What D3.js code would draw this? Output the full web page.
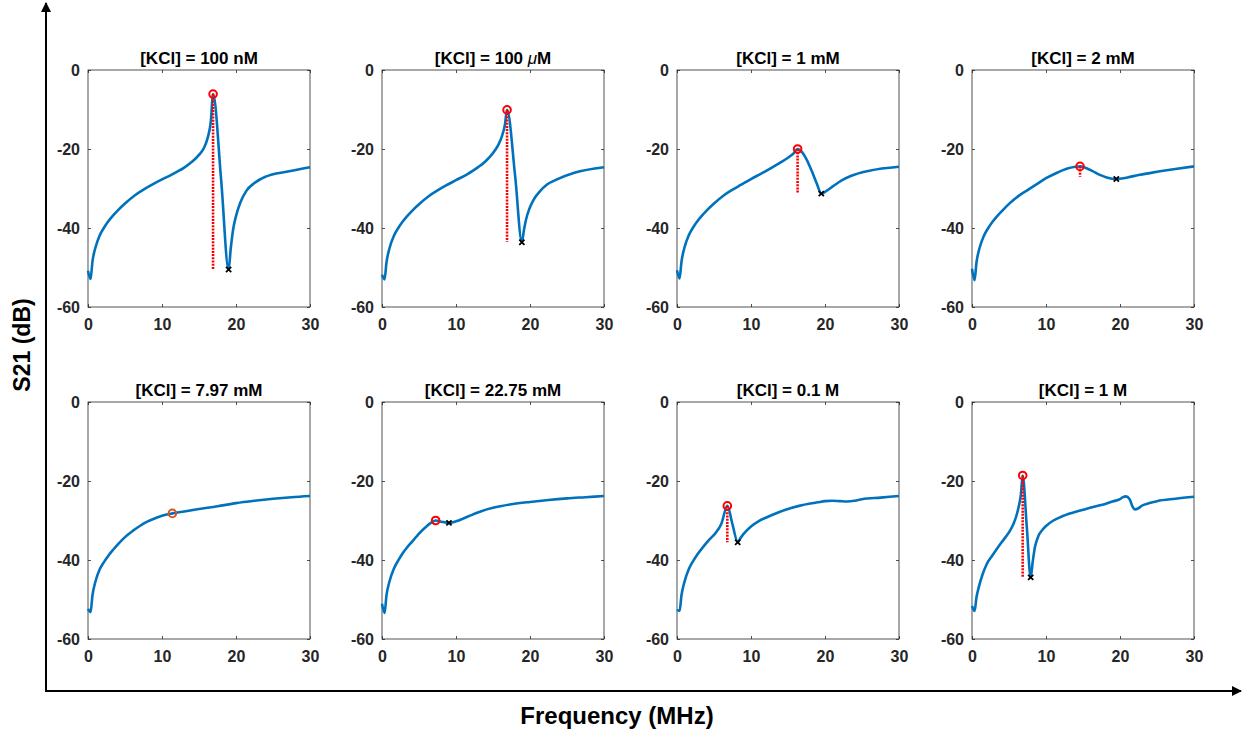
<!DOCTYPE html>
<html>
<head>
<meta charset="utf-8">
<script src="https://cdn.jsdelivr.net/npm/d3@7"></script>
<style>
  body { margin: 0; background: #fff; }
  text { font-family: Arial, "Liberation Sans", sans-serif; }
</style>
</head>
<body>
<div id="chart"></div>
<script>
// panel titles and ticks
var titles = ["[KCl] = 100 nM", "[KCl] = 100 \u03BCM", "[KCl] = 1 mM", "[KCl] = 2 mM",
              "[KCl] = 7.97 mM", "[KCl] = 22.75 mM", "[KCl] = 0.1 M", "[KCl] = 1 M"];
var xTicks = [0, 10, 20, 30];
var yTicks = [0, -20, -40, -60];

// S21 traces (freq in MHz, S21 in dB)
var f100nM = [0, 0.35, 0.6, 1, 1.6, 2.2, 2.75, 3.4, 4.1, 5, 6.35, 7.5, 8.6, 10, 11, 12, 13, 14, 15, 15.7, 16.2, 16.6, 16.9, 18, 19, 19.3, 19.6, 20, 20.6, 21.4, 22.5, 24, 27, 30];
var s100nM = [-50.8, -52.9, -48.5, -45, -41.8, -39.8, -38.3, -36.8, -35.4, -33.8, -31.7, -30.3, -29.1, -27.7, -26.8, -25.8, -24.7, -23.3, -21.5, -19.6, -17, -13, -6.1, -28, -50.5, -45, -40.5, -37, -33.5, -30.6, -28.6, -27, -25.7, -24.6];
var f100uM = [0, 0.35, 0.6, 1, 1.6, 2.2, 2.75, 3.4, 4.1, 5, 6.35, 7.5, 8.6, 10, 11.5, 13, 14, 15, 15.7, 16.2, 16.6, 16.9, 18, 18.9, 19.2, 19.5, 19.9, 20.5, 21.3, 22.3, 23.5, 26, 30];
var s100uM = [-51.8, -53, -48.8, -45.2, -42, -40, -38.5, -37, -35.6, -34, -31.9, -30.5, -29.3, -27.9, -26.4, -24.6, -23.1, -21, -19, -16.8, -14, -10.1, -27, -43.6, -40.3, -37.6, -35.2, -32.8, -30.8, -29, -27.8, -26, -24.6];
var f1mM = [0, 0.35, 0.6, 1, 1.6, 2.2, 2.75, 3.4, 4.1, 5, 6.35, 7.5, 8.6, 10, 11.5, 13, 14, 15, 15.7, 16.3, 16.9, 17.5, 18.2, 18.9, 19.5, 20.2, 21.1, 22.2, 23.4, 26, 30];
var s1mM = [-50.7, -52.8, -48.6, -45, -41.8, -39.8, -38.3, -36.8, -35.4, -33.8, -31.7, -30.3, -29.1, -27.6, -26.1, -24.5, -23.4, -22.2, -21.2, -20, -20.8, -22.6, -25.5, -28.8, -31.3, -30.6, -29.4, -28, -26.9, -25.5, -24.5];
var f2mM = [0, 0.35, 0.6, 1, 1.6, 2.2, 2.75, 3.4, 4.1, 5, 6.35, 7.5, 8.6, 10, 11.5, 13, 14, 14.6, 15.4, 16.3, 17.2, 18.2, 19.5, 21, 22.5, 24, 27, 30];
var s2mM = [-50.3, -53.2, -48.8, -45.2, -42, -40, -38.5, -37, -35.6, -33.9, -31.8, -30.4, -29.1, -27.4, -26, -24.9, -24.5, -24.4, -24.8, -25.6, -26.5, -27.2, -27.6, -27.2, -26.6, -26.1, -25.2, -24.4];
var f797mM = [0, 0.35, 0.6, 1, 1.6, 2.2, 2.75, 3.4, 4.1, 5, 6, 7, 8, 9, 10, 11.4, 13, 15, 17.5, 20, 22.5, 25, 27.5, 30];
var s797mM = [-52.4, -53.2, -49, -45.5, -42.3, -40.4, -38.9, -37.4, -35.9, -34.2, -32.7, -31.4, -30.3, -29.5, -28.8, -28.2, -27.7, -27.1, -26.4, -25.6, -25, -24.5, -24.1, -23.8];
var f2275mM = [0, 0.35, 0.6, 1, 1.6, 2.2, 2.75, 3.4, 4.1, 5, 6, 6.7, 7.25, 8, 9.05, 10, 11, 12, 13.5, 15, 17.5, 20, 22.5, 25, 27.5, 30];
var s2275mM = [-51.1, -53.4, -49, -45.5, -42.2, -40.1, -38.4, -36.8, -35.3, -33.3, -31.5, -30.5, -30.0, -30.3, -30.6, -30.2, -29.5, -28.7, -27.6, -26.8, -25.9, -25.3, -24.8, -24.4, -24.1, -23.8];
var f01M = [0, 0.35, 0.6, 1, 1.6, 2.2, 2.75, 3.4, 4.1, 4.6, 5.2, 6, 6.8, 7.5, 8.2, 8.6, 9, 10, 11, 12, 13.5, 15, 16.5, 18, 19, 20, 21, 22, 23, 24, 25, 27.5, 30];
var s01M = [-52.6, -52.9, -49, -45.6, -42.3, -40.2, -38.6, -37, -35.4, -34.4, -33.2, -30.8, -26.3, -31, -35.5, -34.4, -33.4, -31.5, -30.2, -29.3, -28.1, -27.1, -26.3, -25.7, -25.4, -25.1, -25, -25.1, -25.2, -25, -24.6, -24.2, -23.8];
var f1M = [0, 0.35, 0.6, 0.9, 1.4, 2, 2.7, 3.35, 4, 4.7, 5.2, 5.6, 6, 6.3, 6.6, 6.85, 7.4, 7.93, 8.2, 8.5, 9, 9.5, 10, 11, 12, 13.5, 15, 16.5, 18, 19, 20, 20.4, 20.8, 21.3, 21.7, 22, 22.5, 23, 24, 25, 27.5, 30];
var s1M = [-51.6, -52.9, -49.5, -47, -43.8, -41, -39, -37.2, -35.5, -33.8, -32.4, -30.9, -28.8, -26.6, -23.5, -18.6, -31.5, -44.4, -40.5, -36.8, -33.8, -32.4, -31.4, -30, -29.1, -28.1, -27.3, -26.5, -25.8, -25.2, -24.6, -24.1, -23.9, -24.6, -26.5, -27.2, -26.9, -26.2, -25.6, -25.1, -24.5, -24];

var freqs = [f100nM, f100uM, f1mM, f2mM, f797mM, f2275mM, f01M, f1M];
var s21s = [s100nM, s100uM, s1mM, s2mM, s797mM, s2275mM, s01M, s1M];

// resonance peak (circle), notch (cross) and bottom of dotted stem
var peakF = [16.9, 16.9, 16.3, 14.6, 11.4, 7.25, 6.8, 6.85];
var peakS = [-6.1, -10.1, -20, -24.4, -28.2, -30.0, -26.3, -18.6];
var notchF = [19, 18.9, 19.5, 19.5, null, 9.05, 8.2, 7.93];
var notchS = [-50.5, -43.6, -31.3, -27.6, null, -30.6, -35.5, -44.4];
var stemEnd = [-50.5, -43.5, -31, -27, null, null, -35.5, -44.3];

var W = 1244, H = 732;
var colLeft = [88, 382, 677, 972];
var rowTop = [70, 402];
var pw = 222, ph = 237;
var tickCol = "#262626";

var svg = d3.select("#chart").append("svg")
  .attr("width", W).attr("height", H);

var defs = svg.append("defs");
defs.append("marker")
  .attr("id", "arrow")
  .attr("viewBox", "0 0 10 10")
  .attr("refX", 9).attr("refY", 5)
  .attr("markerWidth", 5).attr("markerHeight", 5)
  .attr("orient", "auto")
  .append("path").attr("d", "M0,0L10,5L0,10Z").attr("fill", "#000");

// big outer arrows
svg.append("line").attr("x1", 46).attr("y1", 691).attr("x2", 46).attr("y2", 3)
  .attr("stroke", "#000").attr("stroke-width", 2).attr("marker-end", "url(#arrow)");
svg.append("line").attr("x1", 45).attr("y1", 691).attr("x2", 1241).attr("y2", 691)
  .attr("stroke", "#000").attr("stroke-width", 2).attr("marker-end", "url(#arrow)");

svg.append("text")
  .attr("transform", "translate(30," + 345 + ") rotate(-90)")
  .attr("text-anchor", "middle")
  .style("font-size", "23px").style("font-weight", "bold")
  .text("S21 (dB)");
svg.append("text")
  .attr("x", 617).attr("y", 724)
  .attr("text-anchor", "middle")
  .style("font-size", "24px").style("font-weight", "bold")
  .text("Frequency (MHz)");

var x = d3.scaleLinear().domain([0, 30]).range([0, pw]);
var y = d3.scaleLinear().domain([-60, 0]).range([ph, 0]);

var line = d3.line()
  .x(function(d) { return x(d[0]); })
  .y(function(d) { return y(d[1]); })
  .curve(d3.curveMonotoneX);

// plain hyphen minus like the original
var fmt = function(d) { return String(d); };

titles.forEach(function(title, i) {
  var g = svg.append("g")
    .attr("transform", "translate(" + colLeft[i % 4] + "," + rowTop[Math.floor(i / 4)] + ")");

  // axes with inward ticks
  g.append("g").attr("transform", "translate(0," + ph + ")")
    .call(d3.axisBottom(x).tickValues(xTicks).tickFormat(fmt).tickSizeInner(-3).tickSizeOuter(0).tickPadding(12));
  g.append("g")
    .call(d3.axisLeft(y).tickValues(yTicks).tickFormat(fmt).tickSizeInner(-3).tickSizeOuter(0).tickPadding(8));
  g.append("g").call(d3.axisTop(x).tickValues(xTicks).tickSizeInner(-3).tickSizeOuter(0).tickFormat(""));
  g.append("g").attr("transform", "translate(" + pw + ",0)")
    .call(d3.axisRight(y).tickValues(yTicks).tickSizeInner(-3).tickSizeOuter(0).tickFormat(""));
  g.selectAll(".domain").remove();
  g.selectAll(".tick line").attr("stroke", tickCol).attr("stroke-width", 0.8);
  g.selectAll(".tick text")
    .attr("fill", tickCol)
    .style("font-size", "16px").style("font-weight", "bold")
    .style("font-family", "Arial, 'Liberation Sans', sans-serif");

  g.append("rect").attr("width", pw).attr("height", ph)
    .attr("fill", "none").attr("stroke", tickCol).attr("stroke-width", 0.8);

  // title, the mu is set in italic like TeX
  var t = g.append("text")
    .attr("x", pw / 2).attr("y", -6)
    .attr("text-anchor", "middle")
    .style("font-size", "17px").style("font-weight", "bold");
  var parts = title.split("\u03BC");
  t.append("tspan").text(parts[0]);
  if (parts.length > 1) {
    t.append("tspan").style("font-style", "italic").style("font-weight", "normal").text("\u03BC");
    t.append("tspan").text(parts[1]);
  }

  var pts = d3.zip(freqs[i], s21s[i]);
  g.append("path").datum(pts)
    .attr("d", line)
    .attr("fill", "none")
    .attr("stroke", "#0072BD")
    .attr("stroke-width", 2.6)
    .attr("stroke-linejoin", "round");

  // dotted stem under the peak
  if (stemEnd[i] !== null) {
    g.append("line")
      .attr("x1", x(peakF[i])).attr("x2", x(peakF[i]))
      .attr("y1", y(peakS[i])).attr("y2", y(stemEnd[i]))
      .attr("stroke", "#FF0000").attr("stroke-width", 2.6)
      .attr("stroke-dasharray", "2,1.2");
  }

  // notch cross
  if (notchF[i] !== null) {
    var cx = x(notchF[i]), cy = y(notchS[i]), k = 2.6;
    g.append("path")
      .attr("d", "M" + (cx - k) + "," + (cy - k) + "L" + (cx + k) + "," + (cy + k) +
                 "M" + (cx - k) + "," + (cy + k) + "L" + (cx + k) + "," + (cy - k))
      .attr("stroke", "#000").attr("stroke-width", 1.8);
  }

  // peak circle
  g.append("circle")
    .attr("cx", x(peakF[i])).attr("cy", y(peakS[i]))
    .attr("r", 3.8)
    .attr("fill", "none")
    .attr("stroke", i === 4 ? "#D95319" : "#FF0000")
    .attr("stroke-width", 2);
});
</script>
</body>
</html>
